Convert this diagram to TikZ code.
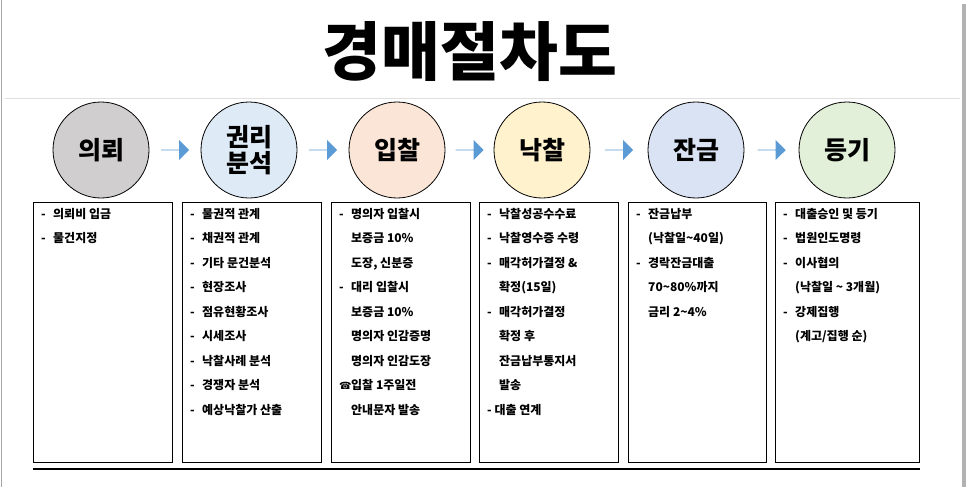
\documentclass[tikz,border=0pt]{standalone}
\usepackage{fontspec}
\setmainfont{Noto Sans CJK KR}
\newfontfamily\symfont{DejaVu Sans}
\usetikzlibrary{calc,shapes.arrows}
\definecolor{arrowblue}{HTML}{5B9BD5}
\tikzstyle{step circle}=[circle,draw=black,line width=0.8pt,minimum size=96pt,inner sep=0pt,font=\bfseries\fontsize{25}{30}\selectfont,align=center]
\tikzstyle{step arrow}=[single arrow,fill=arrowblue,draw=none,minimum height=28pt,minimum width=20pt,single arrow head extend=4pt,inner sep=0pt]
\tikzstyle{info box}=[draw=black,line width=0.8pt]
\tikzstyle{info text}=[anchor=north west,align=left,inner sep=0pt,font=\bfseries\fontsize{12}{24.5}\selectfont]
\newcommand{\itm}[1]{\makebox[12pt][l]{-}#1}
\newcommand{\cnt}[1]{\hspace*{12pt}#1}

\begin{document}
\begin{tikzpicture}[x=1pt,y=-1pt]
\useasboundingbox (0,0) rectangle (966,487);
\fill[gray!60] (962,4) rectangle (966,487);
\draw[gray!70,line width=1pt] (1,0)--(1,487);
\draw[gray!25] (5,98)--(960,98);
\node (title) at (470,52) {\bfseries\fontsize{64}{70}\selectfont 경매절차도};
% circles
\node[step circle,fill={rgb,255:red,208;green,206;blue,206}] (c1) at (101,150) {의뢰};
\node[step circle,fill={rgb,255:red,222;green,235;blue,247}] (c2) at (249,150) {권리\\[-4pt]분석};
\node[step circle,fill={rgb,255:red,251;green,229;blue,214}] (c3) at (397,150) {입찰};
\node[step circle,fill={rgb,255:red,255;green,242;blue,204}] (c4) at (542,150) {낙찰};
\node[step circle,fill={rgb,255:red,218;green,227;blue,243}] (c5) at (696,150) {잔금};
\node[step circle,fill={rgb,255:red,226;green,240;blue,217}] (c6) at (847,150) {등기};
\foreach \a/\b in {c1/c2,c2/c3,c3/c4,c4/c5,c5/c6}
	\node[step arrow] at ($(\a)!0.5!(\b)$) {};
% boxes
\draw[info box] (33,202) rectangle (172,462);
\draw[info box] (182,202) rectangle (321,462);
\draw[info box] (331,202) rectangle (470,462);
\draw[info box] (479,202) rectangle (618,462);
\draw[info box] (628,202) rectangle (766,462);
\draw[info box] (775,202) rectangle (919,462);
\node[info text] (t1) at (41,208) {\itm{의뢰비 입금}\\\itm{물건지정}};
\node[info text] (t2) at (190,208) {\itm{물권적 관계}\\\itm{채권적 관계}\\\itm{기타 문건분석}\\\itm{현장조사}\\\itm{점유현황조사}\\\itm{시세조사}\\\itm{낙찰사례 분석}\\\itm{경쟁자 분석}\\\itm{예상낙찰가 산출}};
\node[info text] (t3) at (339,208) {\itm{명의자 입찰시}\\\cnt{보증금 10\%}\\\cnt{도장, 신분증}\\\itm{대리 입찰시}\\\cnt{보증금 10\%}\\\cnt{명의자 인감증명}\\\cnt{명의자 인감도장}\\\makebox[12pt][l]{\symfont\fontsize{10}{12}\selectfont ☎}입찰 1주일전\\\cnt{안내문자 발송}};
\node[info text] (t4) at (487,208) {\itm{낙찰성공수수료}\\\itm{낙찰영수증 수령}\\\itm{매각허가결정 \&}\\\cnt{확정(15일)}\\\itm{매각허가결정}\\\cnt{확정 후}\\\cnt{잔금납부통지서}\\\cnt{발송}\\- 대출 연계};
\node[info text] (t5) at (636,208) {\itm{잔금납부}\\\cnt{(낙찰일\textasciitilde 40일)}\\\itm{경락잔금대출}\\\cnt{70\textasciitilde 80\%까지}\\\cnt{금리 2\textasciitilde 4\%}};
\node[info text] (t6) at (783,208) {\itm{대출승인 및 등기}\\\itm{법원인도명령}\\\itm{이사협의}\\\cnt{(낙찰일 \textasciitilde\ 3개월)}\\\itm{강제집행}\\\cnt{(계고/집행 순)}};
\draw[line width=2.5pt] (33,469)--(920,469);
\end{tikzpicture}
\end{document}
